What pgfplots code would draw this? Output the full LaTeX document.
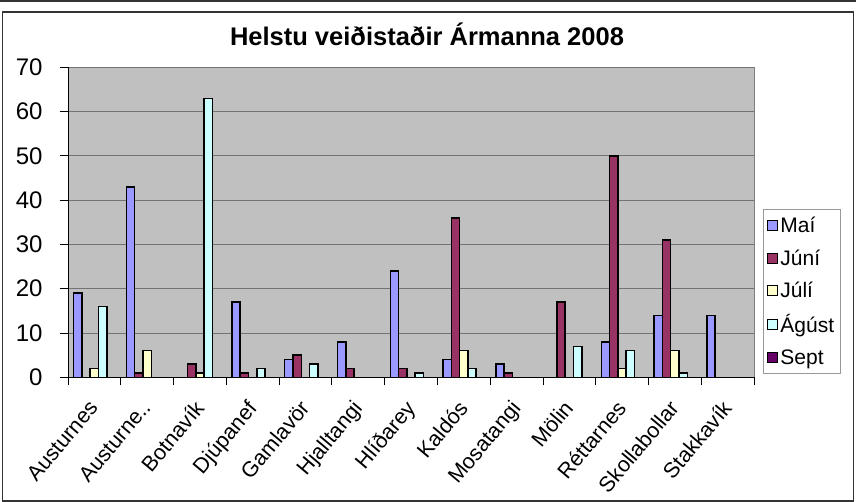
\documentclass[border=0pt]{standalone}
\usepackage{fontspec}
\setmainfont{Liberation Sans}
\usepackage{pgfplots}
\pgfplotsset{compat=1.18}
\definecolor{cmai}{HTML}{9999FF}
\definecolor{cjuni}{HTML}{993366}
\definecolor{cjuli}{HTML}{FFFFCC}
\definecolor{cagust}{HTML}{CCFFFF}
\definecolor{csept}{HTML}{660066}
\definecolor{plotbg}{HTML}{C0C0C0}
\begin{document}
\begin{tikzpicture}
\useasboundingbox (0,0) rectangle (856pt,502pt);
\fill[white] (0,0) rectangle (856pt,502pt);
\draw[line width=1.5pt, black!80] (0,501pt) -- (856pt,501pt);
\draw[line width=1.2pt, black!80] (2pt,502pt) -- (2pt,500pt);
\draw[line width=1.5pt, black!80] (2.5pt,1pt) rectangle (853.5pt,490pt);
\node[font=\fontsize{25.5}{28}\selectfont\bfseries] at (427pt,468pt) {Helstu veiðistaðir Ármanna 2008};
\begin{axis}[
  at={(68pt,124.7pt)}, anchor=south west,
  scale only axis, width=686pt, height=310pt,
  ybar=0pt, bar width=8.3pt,
  xmin=-0.5, xmax=12.5, ymin=0, ymax=70,
  axis lines=left, axis line style={-, black, line width=1pt},
  axis background/.style={fill=plotbg, draw=black!50, line width=1pt},
  ytick={0,10,...,70},
  ymajorgrids, grid style={black!55, line width=1pt},
  xtick={0,...,12},
  xticklabels={Austurnes,Austurne..,Botnavík,Djúpanef,Gamlavör,Hjalltangi,Hlíðarey,Kaldós,Mosatangi,Mölin,Réttarnes,Skollabollar,Stakkavík},
  major x tick style={draw=none},
  minor xtick={-0.5,0.5,...,12.5},
  minor tick length=8pt, major tick length=8pt,
  tick align=outside,
  tick style={black, line width=0.8pt},
  /pgf/number format/assume math mode=true,
  yticklabel style={font=\fontsize{24}{26}\selectfont, xshift=-14pt},
  xticklabel style={font=\fontsize{21.5}{24}\selectfont, xshift=-7pt, yshift=-12pt, rotate=50, anchor=north east, inner sep=1pt},
  every axis plot/.append style={draw=black, line width=1.5pt},
  legend style={at={(1,0)}, anchor=south west, xshift=9pt, yshift=3pt,
    draw=black!40, line width=0.8pt, font=\fontsize{21}{23}\selectfont,
    row sep=11.5pt, inner xsep=4pt, inner ysep=6pt, cells={anchor=west}},
  legend image code/.code={\draw[#1, line width=1pt, draw=black] (0pt,-5pt) rectangle (10pt,5pt);},
  legend cell align=left,
]
\addplot[fill=cmai] coordinates {(0,19) (1,43) (2,0) (3,17) (4,4) (5,8) (6,24) (7,4) (8,3) (9,0) (10,8) (11,14) (12,14)};
\addplot[fill=cjuni] coordinates {(0,0) (1,1) (2,3) (3,1) (4,5) (5,2) (6,2) (7,36) (8,1) (9,17) (10,50) (11,31) (12,0)};
\addplot[fill=cjuli] coordinates {(0,2) (1,6) (2,1) (3,0) (4,0) (5,0) (6,0) (7,6) (8,0) (9,0) (10,2) (11,6) (12,0)};
\addplot[fill=cagust] coordinates {(0,16) (1,0) (2,63) (3,2) (4,3) (5,0) (6,1) (7,2) (8,0) (9,7) (10,6) (11,1) (12,0)};
\addplot[fill=csept] coordinates {(0,0) (1,0) (2,0) (3,0) (4,0) (5,0) (6,0) (7,0) (8,0) (9,0) (10,0) (11,0) (12,0)};
\legend{Maí,Júní,Júlí,Ágúst,Sept}
\end{axis}
\end{tikzpicture}
\end{document}
